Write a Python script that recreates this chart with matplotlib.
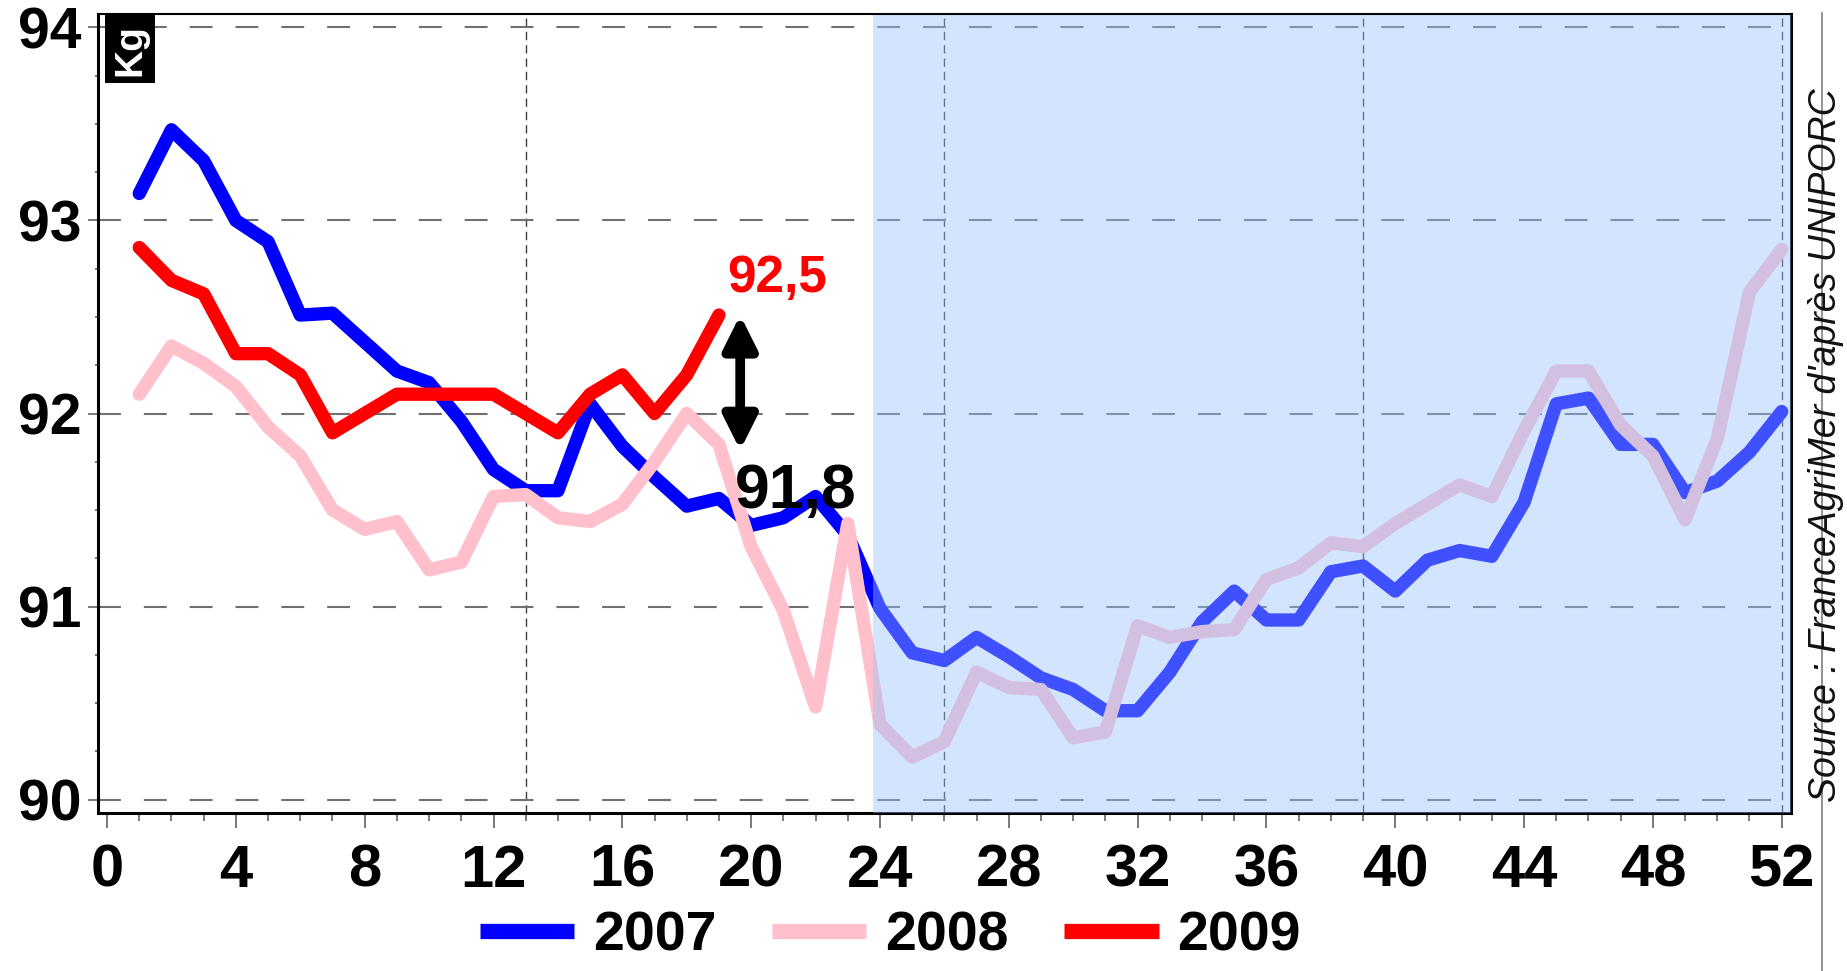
import matplotlib
matplotlib.use("Agg")
import matplotlib.pyplot as plt
from matplotlib.lines import Line2D
from matplotlib.patches import Rectangle
from matplotlib.ticker import MultipleLocator

plt.rcParams['font.family'] = ['Liberation Sans', 'DejaVu Sans']

# poids moyen des carcasses (kg) par semaine
semaines = list(range(1, 53))
kg_2007 = [93.14, 93.47, 93.31, 93.00, 92.89, 92.51, 92.52, 92.37, 92.22, 92.16,
           91.96, 91.71, 91.60, 91.60, 92.05, 91.83, 91.67, 91.52, 91.56, 91.42,
           91.46, 91.57, 91.37, 90.99, 90.76, 90.72, 90.84, 90.74, 90.63, 90.57,
           90.46, 90.46, 90.66, 90.92, 91.08, 90.93, 90.93, 91.18, 91.21, 91.08,
           91.24, 91.29, 91.26, 91.54, 92.05, 92.08, 91.84, 91.84, 91.59, 91.65,
           91.80, 92.01]
kg_2008 = [92.10, 92.35, 92.26, 92.14, 91.93, 91.78, 91.50, 91.40, 91.44, 91.19,
           91.23, 91.57, 91.58, 91.46, 91.44, 91.53, 91.75, 92.00, 91.84, 91.31,
           90.98, 90.48, 91.43, 90.39, 90.22, 90.30, 90.66, 90.58, 90.57, 90.32,
           90.35, 90.90, 90.84, 90.87, 90.88, 91.14, 91.20, 91.33, 91.31, 91.43,
           91.53, 91.63, 91.57, 91.91, 92.22, 92.22, 91.94, 91.78, 91.45, 91.87,
           92.63, 92.85]
semaines_2009 = list(range(1, 20))
kg_2009 = [92.86, 92.69, 92.62, 92.31, 92.31, 92.20, 91.90, 92.00, 92.10, 92.10,
           92.10, 92.10, 92.00, 91.90, 92.10, 92.20, 92.00, 92.20, 92.51]

annees = ['2007', '2008', '2009']
couleurs = ['#0000ff', '#ffc0cb', '#ff0000']

# fin de la periode connue / debut de la zone grisee (semaines)
debut_zone = 23.78
trimestres = [13, 26, 39, 52]
val_2009 = 92.51
val_2007 = 91.81
label_2009 = '92,5'
label_2007 = '91,8'

fig = plt.figure(figsize=(18.47, 9.71), dpi=100)
ax = fig.add_axes([0.0529, 0.1627, 0.9168, 0.8229])

ax.plot(semaines, kg_2007, color=couleurs[0], lw=9.6, solid_capstyle='round', zorder=2)
ax.plot(semaines, kg_2008, color=couleurs[1], lw=9.6, solid_capstyle='round', zorder=2.1)
ax.plot(semaines_2009, kg_2009, color=couleurs[2], lw=9.6, solid_capstyle='round', zorder=2.2)

ax.set_xlim(-0.29, 52.29)
ax.set_ylim(89.93, 94.07)

# zone grisee par-dessus les courbes
ax.axvspan(debut_zone, ax.get_xlim()[1], color='#98c0ff', alpha=0.42, lw=0, zorder=3)

# grilles
ax.yaxis.grid(True, color='#707070', lw=1.5, linestyle=(0, (11, 11)), zorder=1)
for t in trimestres:
    ax.axvline(t, color='#404040', lw=1.0, linestyle=(0, (6, 3.6)), zorder=1)

for s in ax.spines.values():
    s.set_linewidth(2.2)
    s.set_color('black')
ax.spines['top'].set_linewidth(1.5)
ax.spines['top'].set_zorder(4)

# ticks
ax.set_xticks(range(0, 53, 4))
ax.xaxis.set_minor_locator(MultipleLocator(1))
ax.yaxis.set_major_locator(MultipleLocator(1))
ax.yaxis.set_minor_locator(MultipleLocator(0.25))
ax.tick_params(axis='x', which='major', length=11, width=1.1, color='#555555', pad=11)
ax.tick_params(axis='x', which='minor', length=6, width=1.1, color='#555555')
ax.tick_params(axis='y', which='major', length=7, width=1.1, color='#555555', pad=5)
ax.tick_params(axis='y', which='minor', length=2.5, width=1.1, color='#555555')
ax.set_xticklabels([str(v) for v in range(0, 53, 4)])
for lab in ax.get_xticklabels():
    lab.set_fontweight('bold')
    lab.set_fontsize(43)
ax.set_yticklabels([str(int(v)) for v in ax.get_yticks()])
for lab in ax.get_yticklabels():
    lab.set_fontweight('bold')
    lab.set_fontsize(41)

# etiquette Kg
ax.add_patch(Rectangle((0.0043, 0.9136), 0.0295, 0.0877, transform=ax.transAxes,
                       facecolor='black', edgecolor='none', clip_on=False, zorder=5))
ax.text(0.0195, 0.955, 'Kg', transform=ax.transAxes, rotation=90, color='white',
        fontsize=28, fontweight='bold', ha='center', va='center', zorder=6)

# ecart 2009 / 2007
ax.annotate('', xy=(19.66, val_2007), xytext=(19.66, val_2009),
            arrowprops=dict(arrowstyle='<|-|>,head_length=1.0,head_width=0.5',
                            lw=7, color='black', mutation_scale=20,
                            shrinkA=0, shrinkB=0), zorder=5)
ax.text(19.25, 92.63, label_2009, color='#ff0000', fontsize=37, fontweight='bold',
        ha='left', va='baseline', zorder=5)
ax.text(19.5, 91.51, label_2007, color='black', fontsize=45, fontweight='bold',
        ha='left', va='baseline', zorder=5)

# legende
poignees = [Line2D([0], [0], color=c, lw=11, solid_capstyle='butt') for c in couleurs]
leg = fig.legend(poignees, annees, loc='center', bbox_to_anchor=(0.482, 0.036),
                 ncol=3, frameon=False, handlelength=1.7, handletextpad=0.34,
                 columnspacing=1.0, borderpad=0,
                 prop={'weight': 'bold', 'size': 40})

# source
fig.add_artist(Line2D([0.9865, 0.9865], [0, 0.9866], transform=fig.transFigure,
                      color='#808080', lw=1.2))
fig.text(0.9886, 0.542, "Source : FranceAgriMer d'après UNIPORC", rotation=90,
         style='italic', fontsize=27, ha='center', va='center', color='#111111')

fig.savefig('out.png', dpi=100)
